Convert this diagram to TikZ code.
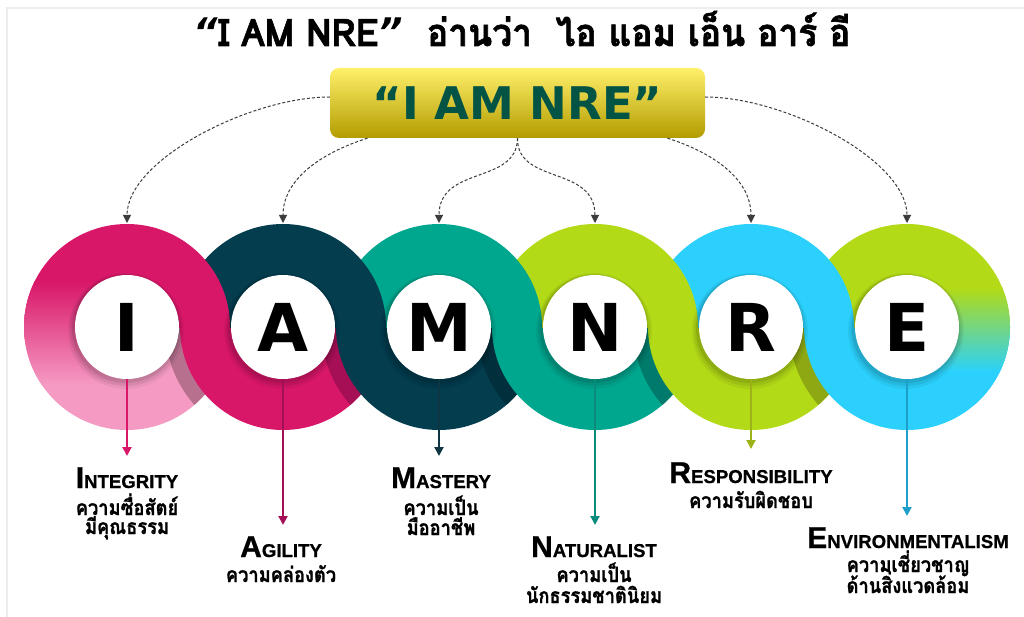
\documentclass[tikz,border=0pt]{standalone}
\usepackage{fontspec}
\usetikzlibrary{arrows.meta}
\newfontfamily\thaifont[Script=Thai, BoldFeatures={FakeStretch=0.87, FakeBold=1}]{Loma}
\newfontfamily\thaititle[Script=Thai, BoldFeatures={FakeStretch=0.93, FakeBold=1.6}]{Loma}
\newfontfamily\dvb{DejaVu Sans}
\newfontfamily\lib[BoldFeatures={FakeBold=0.8}]{Liberation Sans}
\definecolor{cPink}{HTML}{D91769}
\definecolor{cLPink}{HTML}{F59BC3}
\definecolor{cMauve}{HTML}{B7718F}
\definecolor{cDark}{HTML}{033D4E}
\definecolor{cDarkPinkSh}{HTML}{A60F55}
\definecolor{cTeal}{HTML}{00A78F}
\definecolor{cDarkSh}{HTML}{022F3C}
\definecolor{cLime}{HTML}{B2DA17}
\definecolor{cTealSh}{HTML}{007B6B}
\definecolor{cCyan}{HTML}{2BD1FC}
\definecolor{cLimeSh}{HTML}{8DA812}
\definecolor{cEmid}{HTML}{9ADBB8}
\definecolor{cBanTop}{HTML}{FFF06A}
\definecolor{cBanMid}{HTML}{FFE200}
\definecolor{cBanBot}{HTML}{B39C00}
\definecolor{cBanText}{HTML}{045446}
\definecolor{cConn}{HTML}{3C3C3C}
\definecolor{aI}{HTML}{D91769}
\definecolor{aA}{HTML}{A31058}
\definecolor{aM}{HTML}{0D3542}
\definecolor{aN}{HTML}{0B8B7B}
\definecolor{aR}{HTML}{9CB217}
\definecolor{aE}{HTML}{1D9FCB}
\newcommand\ringbottom[3]{%
  \begin{scope}
    \clip (0,327) rectangle (1024,617);
    \fill[#2] (#1,327) circle (103);
    \clip (#1,327) circle (103);
    \fill[#3] (#1+156,327) circle (118);
  \end{scope}}
\newcommand\ringtop[2]{%
  \begin{scope}
    \clip (0,0) rectangle (1024,327);
    \fill[#2] (#1,327) circle (103);
  \end{scope}}
\newcommand\softshadow[1]{%
  \fill[black,opacity=0.05] (#1-1,331) circle (58);
  \fill[black,opacity=0.07] (#1-1,330) circle (56);
  \fill[black,opacity=0.09] (#1-1,329) circle (54);}
\newcommand\bigc[1]{{\fontsize{30}{30}\selectfont #1}}
\newcommand\smc[1]{{\fontsize{18.6}{20}\selectfont #1}}
\newcommand\tq[1]{{\dvb\bfseries\itshape #1}}
\tikzset{
  letter/.style={circle, fill=white, minimum size=104pt, inner sep=0pt,
    font=\dvb\bfseries\fontsize{66}{66}\selectfont, text=black},
  banner/.style={rounded corners=9pt, minimum width=375pt, minimum height=70pt,
    top color=cBanTop, middle color=cBanMid, bottom color=cBanBot, inner sep=0pt,
    font=\dvb\bfseries\fontsize{45}{45}\selectfont, text=cBanText},
  dashconn/.style={draw=cConn, line width=1pt, dash pattern=on 3pt off 2pt,
    -{Triangle[width=8pt,length=8pt,fill=cConn]}},
  downarrow/.style={line width=2pt, -{Triangle[width=9pt,length=9pt]}},
  lab/.style={anchor=base, inner sep=0pt, font=\lib\bfseries, text=black},
  thai/.style={anchor=base, inner sep=0pt, font=\thaifont\bfseries\fontsize{21}{22}\selectfont, text=black},
}
\begin{document}
\begin{tikzpicture}[x=1pt,y=-1pt]
\useasboundingbox (0,0) rectangle (1024,617);
\fill[white] (0,0) rectangle (1024,617);
\draw[black!7, line width=1.5pt] (7,617) -- (7,8) -- (1024,8);

% title
\node[inner sep=0pt, anchor=base] (title) at (522,46)
  {\thaititle\bfseries\fontsize{38}{40}\selectfont \tq{“}I AM NRE\tq{”}\ \ อ่านว่า\ \ ไอ แอม เอ็น อาร์ อี};

% rings: bottom halves left to right
\ringbottom{127}{cLPink}{cMauve}
\ringbottom{283}{cPink}{cDarkPinkSh}
\ringbottom{439}{cDark}{cDarkSh}
\ringbottom{595}{cTeal}{cTealSh}
\ringbottom{751}{cLime}{cLimeSh}
\ringbottom{907}{cCyan}{cCyan}
% top halves right to left
\ringtop{907}{cLime}
\ringtop{751}{cCyan}
\ringtop{595}{cLime}
\ringtop{439}{cTeal}
\ringtop{283}{cDark}
\ringtop{127}{cPink}
% gradient on left of I
\begin{scope}
  \clip (127,327) circle (103);
  \clip (0,0) rectangle (127,617);
  \shade[top color=cPink, bottom color=cLPink] (20,282) rectangle (127,385);
\end{scope}
% gradient on right of E
\begin{scope}
  \clip (907,327) circle (103);
  \clip (907,0) rectangle (1024,617);
  \shade[top color=cLime, middle color=cEmid, bottom color=cCyan] (907,288) rectangle (1012,372);
\end{scope}

% white circles
\softshadow{127}\softshadow{283}\softshadow{439}\softshadow{595}\softshadow{751}\softshadow{907}
\node[letter] (cI) at (127,327) {I};
\node[letter] (cA) at (283,327) {A};
\node[letter] (cM) at (439,327) {M};
\node[letter] (cN) at (595,327) {N};
\node[letter] (cR) at (751,327) {R};
\node[letter] (cE) at (907,327) {E};

% ring tops (arrow targets)
\coordinate (tI) at (127,223);
\coordinate (tA) at (283,223);
\coordinate (tM) at (439,223);
\coordinate (tN) at (595,223);
\coordinate (tR) at (751,223);
\coordinate (tE) at (907,223);

% banner
\node[banner] (banner) at (517.5,103) {“I AM NRE”};

% dashed connectors
\draw[dashconn] ([yshift=6pt]banner.west) .. controls (250,97) and (127,160) .. (tI);
\draw[dashconn] ([xshift=-150pt]banner.south) .. controls (330,150) and (283,175) .. (tA);
\draw[dashconn] (banner.south) .. controls (517,185) and (439,165) .. (tM);
\draw[dashconn] (banner.south) .. controls (517,185) and (595,165) .. (tN);
\draw[dashconn] ([xshift=150pt]banner.south) .. controls (705,150) and (751,175) .. (tR);
\draw[dashconn] ([yshift=6pt]banner.east) .. controls (785,97) and (907,160) .. (tE);

% down arrows
\coordinate (eI) at (127,456);
\coordinate (eA) at (283,525);
\coordinate (eM) at (439,456);
\coordinate (eN) at (595,525);
\coordinate (eR) at (751,449);
\coordinate (eE) at (907,516);
\draw[downarrow, aI] (cI.south) -- (eI);
\draw[downarrow, aA] (cA.south) -- (eA);
\draw[downarrow, aM] (cM.south) -- (eM);
\draw[downarrow, aN] (cN.south) -- (eN);
\draw[downarrow, aR] (cR.south) -- (eR);
\draw[downarrow, aE] (cE.south) -- (eE);

% labels
\node[lab] (lI) at (127,488) {\bigc{I}\smc{NTEGRITY}};
\node[thai] (lI1) at (127,515) {ความซื่อสัตย์};
\node[thai] (lI2) at (127,534) {มีคุณธรรม};
\node[lab] (lA) at (281,557) {\bigc{A}\smc{GILITY}};
\node[thai] (lA1) at (281,582) {ความคล่องตัว};
\node[lab] (lM) at (441,488) {\bigc{M}\smc{ASTERY}};
\node[thai] (lM1) at (441,515) {ความเป็น};
\node[thai] (lM2) at (441,535) {มืออาชีพ};
\node[lab] (lN) at (594,557) {\bigc{N}\smc{ATURALIST}};
\node[thai] (lN1) at (594,582) {ความเป็น};
\node[thai] (lN2) at (594,603) {นักธรรมชาตินิยม};
\node[lab] (lR) at (751,483) {\bigc{R}\smc{ESPONSIBILITY}};
\node[thai] (lR1) at (751,508) {ความรับผิดชอบ};
\node[lab] (lE) at (908,548) {\bigc{E}\smc{NVIRONMENTALISM}};
\node[thai] (lE1) at (908,572) {ความเชี่ยวชาญ};
\node[thai] (lE2) at (908,593) {ด้านสิ่งแวดล้อม};
\end{tikzpicture}
\end{document}
